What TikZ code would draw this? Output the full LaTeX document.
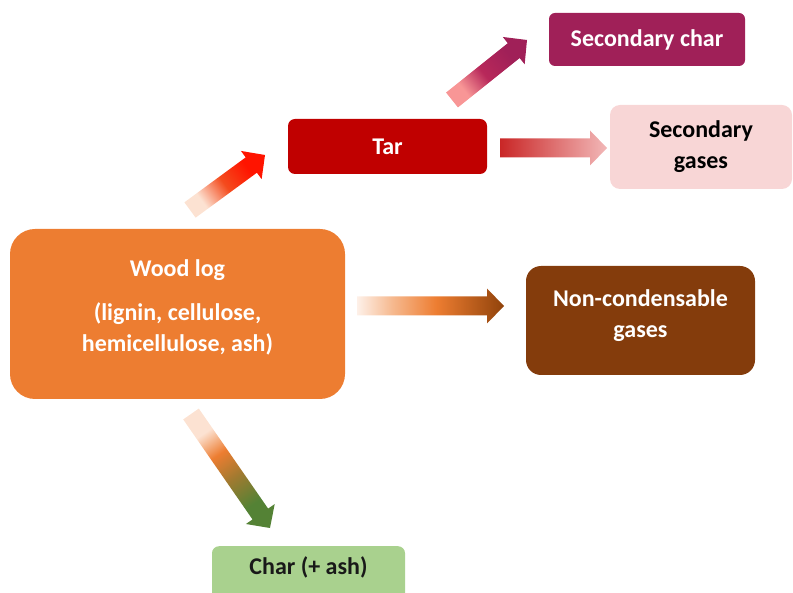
\documentclass[tikz,border=0pt]{standalone}
\usepackage{fontspec}
\setmainfont{Carlito}
\usetikzlibrary{calc}

\definecolor{woodorange}{HTML}{ED7D31}
\definecolor{tarred}{HTML}{C00000}
\definecolor{charpurple}{RGB}{160,32,88}
\definecolor{gaspink}{RGB}{248,214,214}
\definecolor{gasbrown}{HTML}{843C0C}
\definecolor{chargreen}{HTML}{A9D18E}
\definecolor{leafgreen}{HTML}{548235}
\definecolor{paleorange}{RGB}{252,226,210}
\definecolor{peach}{RGB}{246,185,143}
\definecolor{hotred}{RGB}{255,20,0}
\definecolor{salmon}{RGB}{248,150,150}
\definecolor{crimson}{RGB}{184,40,90}
\definecolor{olive}{RGB}{160,122,48}
\definecolor{lightred}{RGB}{242,184,184}

% shadings for the fat arrows (run 25bp..75bp over the path box)
\pgfdeclarehorizontalshading{woodtarshade}{100bp}{color(0bp)=(paleorange); color(31bp)=(paleorange);
    color(50bp)=(woodorange!60!red); color(69bp)=(hotred); color(100bp)=(hotred)}
\pgfdeclarehorizontalshading{tarsecshade}{100bp}{color(0bp)=(salmon); color(31bp)=(salmon);
    color(48bp)=(crimson); color(69bp)=(charpurple); color(100bp)=(charpurple)}
\pgfdeclarehorizontalshading{targasshade}{100bp}{color(0bp)=(tarred!85!white); color(25bp)=(tarred!85!white);
    color(75bp)=(lightred); color(100bp)=(lightred)}
\pgfdeclarehorizontalshading{woodgasshade}{100bp}{color(0bp)=(paleorange!50!white); color(25bp)=(paleorange!50!white);
    color(37bp)=(peach); color(52bp)=(woodorange); color(75bp)=(gasbrown!90!orange); color(100bp)=(gasbrown!90!orange)}
\pgfdeclarehorizontalshading{woodcharshade}{100bp}{color(0bp)=(paleorange); color(30bp)=(paleorange);
    color(42bp)=(woodorange); color(55bp)=(olive); color(70bp)=(leafgreen); color(100bp)=(leafgreen)}

% fat shaded arrow from #1 to #2, shading #3
\newcommand{\fatarrow}[3]{%
  \pgfpointdiff{\pgfpointanchor{#1}{center}}{\pgfpointanchor{#2}{center}}%
  \pgfgetlastxy{\fatdx}{\fatdy}%
  \pgfmathsetmacro{\fatangle}{atan2(\fatdy,\fatdx)}%
  \shade[shading=#3, shading angle=\fatangle]
    ($(#1)!9.5pt!90:(#2)$)
    -- ($(#2)!17pt!(#1)!9.5pt!-90:(#1)$)
    -- ($(#2)!17pt!(#1)!17.5pt!-90:(#1)$)
    -- (#2)
    -- ($(#2)!17pt!(#1)!17.5pt!90:(#1)$)
    -- ($(#2)!17pt!(#1)!9.5pt!90:(#1)$)
    -- ($(#1)!9.5pt!-90:(#2)$) -- cycle;
}

\begin{document}
\begin{tikzpicture}[
    x=1pt, y=-1pt,
    box/.style={rectangle, rounded corners=#1, inner sep=0pt, align=center,
        font=\bfseries\fontsize{24}{31}\selectfont},
    box/.default=7pt
]
\clip (0,0) rectangle (793,593);

% Boxes
\node[box=25pt, fill=woodorange, text=white, minimum width=335pt, minimum height=170pt, text depth=16pt] (wood) at (177.5,314)
    {Wood log\\[13pt](lignin, cellulose,\\hemicellulose, ash)};
\node[box, fill=tarred, text=white, minimum width=199pt, minimum height=55pt] (tar) at (387.5,146.5) {Tar};
\node[box=6pt, fill=charpurple, text=white, minimum width=196pt, minimum height=53pt] (secchar) at (647,39.5) {Secondary char};
\node[box=10pt, fill=gaspink, minimum width=182pt, minimum height=84pt] (secgas) at (701,147) {Secondary\\gases};
\node[box=15pt, fill=gasbrown, text=white, minimum width=229pt, minimum height=109pt, text depth=13pt] (noncond) at (640.5,320.5) {Non-condensable\\gases};
\node[box, fill=chargreen, text=black!90, minimum width=193pt, text height=28pt, text depth=32pt, anchor=north] (char) at (308.5,546) {Char (+ ash)};

% Arrow ends
\coordinate (wood_tar_s) at (190,210);
\coordinate (wood_tar_e) at (265,155);
\coordinate (tar_secchar_s) at (452,100);
\coordinate (tar_secchar_e) at (527,40);
\coordinate (tar_secgas_s) at (500,148);
\coordinate (tar_secgas_e) at (607,148);
\coordinate (wood_noncond_s) at (357,306);
\coordinate (wood_noncond_e) at (504,306);
\coordinate (wood_char_s) at (191,414);
\coordinate (wood_char_e) at (270,528);

% Arrows
\fatarrow{wood_tar_s}{wood_tar_e}{woodtarshade}
\fatarrow{tar_secchar_s}{tar_secchar_e}{tarsecshade}
\fatarrow{tar_secgas_s}{tar_secgas_e}{targasshade}
\fatarrow{wood_noncond_s}{wood_noncond_e}{woodgasshade}
\fatarrow{wood_char_s}{wood_char_e}{woodcharshade}

\end{tikzpicture}
\end{document}
